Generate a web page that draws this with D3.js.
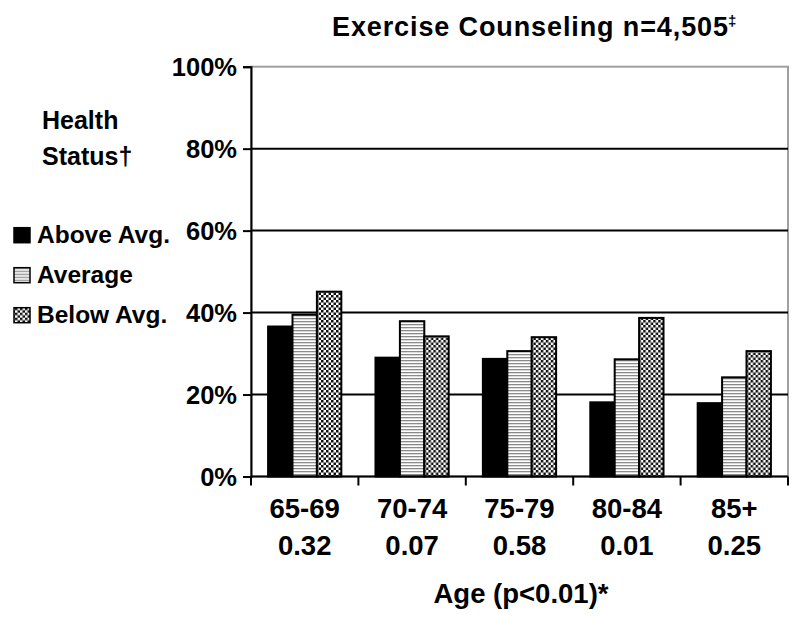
<!DOCTYPE html>
<html>
<head>
<meta charset="utf-8">
<script src="https://cdn.jsdelivr.net/npm/d3@7"></script>
<style>
  html, body { margin: 0; padding: 0; background: #fff; }
  svg { display: block; }
  text { font-family: "Liberation Sans", Arial, Helvetica, sans-serif; font-weight: bold; fill: #000; }
</style>
</head>
<body>
<svg id="chart" width="800" height="617"></svg>
<script>
// ---- Data ----
const categories = ["65-69", "70-74", "75-79", "80-84", "85+"];
const pValues = ["0.32", "0.07", "0.58", "0.01", "0.25"];
const series = ["Above Avg.", "Average", "Below Avg."];
const aboveAvg = [36.6, 29.0, 28.7, 18.1, 17.9];
const average = [39.5, 37.9, 30.6, 28.6, 24.2];
const belowAvg = [45.1, 34.2, 34.0, 38.7, 30.6];
const yTicks = [0, 20, 40, 60, 80, 100];
const titleText = "Exercise Counseling n=4,505";
const titleMark = "‡";
const xTitle = "Age (p<0.01)*";
const legendTitle = ["Health", "Status†"];

const seriesValues = [aboveAvg, average, belowAvg];
const fills = ["#000", "url(#stripes)", "url(#checker)"];

const svg = d3.select("#chart");
const defs = svg.append("defs");

// stripes pattern
const ps = defs.append("pattern").attr("id", "stripes")
  .attr("patternUnits", "userSpaceOnUse").attr("width", 6).attr("height", 3);
ps.append("rect").attr("width", 6).attr("height", 3).attr("fill", "#fff");
ps.append("rect").attr("y", 0).attr("width", 6).attr("height", 1.3).attr("fill", "#8a8a8a");

// checker pattern
const pc = defs.append("pattern").attr("id", "checker")
  .attr("patternUnits", "userSpaceOnUse").attr("width", 5).attr("height", 5);
pc.append("rect").attr("width", 5).attr("height", 5).attr("fill", "#fff");
pc.append("rect").attr("x", 0).attr("y", 0).attr("width", 2.5).attr("height", 2.5).attr("fill", "#111");
pc.append("rect").attr("x", 2.5).attr("y", 2.5).attr("width", 2.5).attr("height", 2.5).attr("fill", "#111");

// ---- Scales ----
const pLeft = 251, pRight = 788, pTop = 66.7, pBottom = 476.5;
const x = d3.scaleBand().domain(categories).range([pLeft, pRight]).paddingInner(0).paddingOuter(0);
const xs = d3.scaleBand().domain(series).range([0, x.bandwidth()]).paddingInner(0).paddingOuter(0.7);
const y = d3.scaleLinear().domain([0, 100]).range([pBottom, pTop]);

// plot border (gray)
svg.append("rect").attr("x", pLeft).attr("y", pTop).attr("width", pRight - pLeft).attr("height", pBottom - pTop)
  .attr("fill", "none").attr("stroke", "#a0a0a0").attr("stroke-width", 2);

// gridlines
svg.append("g").selectAll("line").data(yTicks.filter(d => d > 0 && d < 100)).join("line")
  .attr("x1", pLeft).attr("x2", pRight).attr("y1", d => y(d)).attr("y2", d => y(d))
  .attr("stroke", "#000").attr("stroke-width", 2);

// bars
const groups = svg.append("g").selectAll("g").data(categories).join("g")
  .attr("transform", d => `translate(${x(d)},0)`);
groups.selectAll("rect").data((c, i) => series.map((s, j) => ({ s, j, v: seriesValues[j][i] })))
  .join("rect")
  .attr("x", d => xs(d.s))
  .attr("y", d => y(d.v))
  .attr("width", xs.bandwidth())
  .attr("height", d => pBottom - y(d.v))
  .attr("fill", d => fills[d.j])
  .attr("stroke", "#000").attr("stroke-width", 2);

// y axis
const yAxis = svg.append("g").attr("transform", `translate(${pLeft},0)`)
  .call(d3.axisLeft(y).tickValues(yTicks).tickSize(8).tickPadding(6).tickFormat(d => d + "%"));
yAxis.select(".domain").attr("stroke", "#000").attr("stroke-width", 2);
yAxis.selectAll(".tick line").attr("stroke", "#000").attr("stroke-width", 2);
yAxis.selectAll(".tick text").attr("font-size", 25.5).attr("dy", "0.36em");
yAxis.attr("font-family", null).attr("font-size", null);

// x axis baseline and ticks at category boundaries
const bounds = categories.map(c => x(c)).concat([x(categories[categories.length - 1]) + x.bandwidth()]);
svg.append("line").attr("x1", pLeft).attr("x2", pRight).attr("y1", pBottom).attr("y2", pBottom)
  .attr("stroke", "#000").attr("stroke-width", 2);
svg.append("g").selectAll("line").data(bounds).join("line")
  .attr("x1", d => d).attr("x2", d => d).attr("y1", pBottom).attr("y2", pBottom + 9)
  .attr("stroke", "#000").attr("stroke-width", 2);

// x labels
const xl = svg.append("g").selectAll("g").data(categories).join("g")
  .attr("transform", d => `translate(${x(d) + x.bandwidth() / 2},0)`);
xl.append("text").attr("y", 518).attr("text-anchor", "middle").attr("font-size", 27.5).text(d => d);
xl.append("text").attr("y", 555).attr("text-anchor", "middle").attr("font-size", 27.5)
  .text((d, i) => pValues[i]);

// x title
svg.append("text").attr("x", 521).attr("y", 603).attr("text-anchor", "middle")
  .attr("font-size", 27.5).text(xTitle);

// title
svg.append("text").attr("x", 332).attr("y", 36).attr("font-size", 27)
  .attr("textLength", 396).attr("lengthAdjust", "spacing").text(titleText);
svg.append("text").attr("x", 728).attr("y", 26).attr("font-size", 15).text(titleMark);

// legend
svg.append("text").attr("x", 42).attr("y", 129).attr("font-size", 25).text(legendTitle[0]);
svg.append("text").attr("x", 42).attr("y", 165).attr("font-size", 25).text(legendTitle[1]);
const lg = svg.append("g").selectAll("g").data(series).join("g")
  .attr("transform", (d, i) => `translate(0,${242.7 + i * 40})`);
lg.append("rect").attr("x", 14).attr("y", -15).attr("width", 16).attr("height", 15)
  .attr("fill", (d, i) => fills[i]).attr("stroke", "#000").attr("stroke-width", 1.5);
lg.append("text").attr("x", 37).attr("y", 0).attr("font-size", 24.5).text(d => d);
</script>
</body>
</html>
